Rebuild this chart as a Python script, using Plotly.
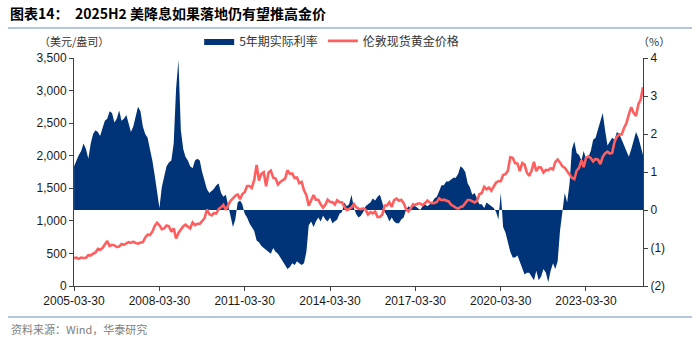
import pandas as pd
import plotly.graph_objects as go

# ---- data (monthly, Mar-2005 .. Mar-2025) ----
real_rate_5y = [
    # 2005 Mar-Dec
    1.15, 1.30, 1.45, 1.55, 1.75, 1.60, 1.35, 1.75, 2.00, 2.10,
    # 2006
    2.05, 1.95, 2.15, 2.35, 2.40, 2.60, 2.55, 2.30, 2.40, 2.62, 2.35, 2.40,
    # 2007
    2.50, 2.30, 2.05, 2.20, 2.45, 2.72, 2.60, 2.20, 2.00, 1.90, 1.60, 1.30,
    # 2008
    0.90, 0.45, 0.05, 0.60, 0.90, 1.15, 1.25, 1.30, 1.75, 3.20, 3.95, 2.10,
    # 2009
    1.60, 1.40, 1.30, 1.15, 1.10, 1.30, 1.35, 1.30, 1.00, 0.75, 0.55, 0.45,
    # 2010
    0.50, 0.55, 0.65, 0.70, 0.45, 0.35, 0.40, 0.10, -0.10, -0.45, -0.25, 0.20,
    # 2011
    0.25, 0.15, -0.10, -0.20, -0.35, -0.45, -0.55, -0.80, -0.85, -0.95, -1.00, -1.05,
    # 2012
    -1.10, -1.15, -1.00, -1.10, -1.15, -1.25, -1.35, -1.45, -1.55, -1.50, -1.40, -1.45,
    # 2013
    -1.35, -1.40, -1.45, -1.40, -1.10, -0.40, -0.30, -0.45, -0.30, -0.20, -0.30, -0.15,
    # 2014
    -0.25, -0.30, -0.20, -0.35, -0.30, -0.25, -0.10, -0.05, 0.20, 0.10, 0.15, 0.40,
    # 2015
    0.05, -0.10, -0.20, -0.15, -0.05, 0.10, 0.15, 0.20, 0.30, 0.25, 0.35, 0.40,
    # 2016
    0.20, -0.05, -0.15, -0.30, -0.20, -0.30, -0.35, -0.35, -0.25, -0.20, 0.00, 0.10,
    # 2017
    0.05, 0.10, 0.10, 0.05, 0.00, 0.10, 0.15, 0.10, 0.15, 0.20, 0.30, 0.35,
    # 2018
    0.50, 0.65, 0.65, 0.75, 0.75, 0.80, 0.85, 0.85, 0.95, 1.15, 1.10, 1.00,
    # 2019
    0.70, 0.60, 0.40, 0.45, 0.30, 0.15, 0.15, 0.05, 0.20, 0.15, 0.10, 0.05,
    # 2020
    -0.05, -0.25, 0.45, -0.45, -0.60, -0.85, -1.10, -1.25, -1.25, -1.20, -1.35, -1.55,
    # 2021
    -1.70, -1.65, -1.65, -1.75, -1.85, -1.60, -1.85, -1.75, -1.55, -1.65, -1.90, -1.60,
    # 2022
    -1.40, -1.55, -1.35, -0.55, -0.05, 0.45, 0.20, 0.70, 1.60, 1.80, 1.50, 1.45,
    # 2023
    1.30, 1.55, 1.35, 1.40, 1.55, 1.85, 1.90, 2.10, 2.35, 2.55, 2.10, 1.70,
    # 2024
    1.80, 1.90, 1.85, 2.05, 2.00, 1.85, 1.70, 1.50, 1.40, 1.60, 1.85, 2.05,
    # 2025 Jan-Mar
    1.90, 1.70, 1.45,
]

london_gold = [
    # 2005 Mar-Dec
    429, 435, 417, 437, 429, 434, 473, 470, 495, 513,
    # 2006
    569, 556, 582, 644, 690, 614, 633, 624, 599, 604, 646, 632,
    # 2007
    650, 672, 662, 680, 660, 650, 666, 673, 743, 789, 783, 834,
    # 2008
    923, 971, 933, 871, 885, 930, 918, 833, 884, 730, 814, 869,
    # 2009
    919, 942, 916, 883, 975, 934, 955, 955, 996, 1040, 1175, 1104,
    # 2010
    1083, 1118, 1115, 1180, 1207, 1244, 1169, 1246, 1307, 1346, 1386, 1405,
    # 2011
    1333, 1411, 1439, 1535, 1536, 1505, 1628, 1860, 1620, 1722, 1746, 1531,
    # 2012
    1744, 1770, 1662, 1651, 1558, 1598, 1622, 1648, 1776, 1720, 1726, 1657,
    # 2013
    1664, 1579, 1598, 1469, 1394, 1234, 1314, 1396, 1326, 1324, 1253, 1204,
    # 2014
    1251, 1326, 1291, 1288, 1250, 1315, 1285, 1285, 1216, 1164, 1182, 1206,
    # 2015
    1260, 1212, 1187, 1180, 1191, 1171, 1098, 1135, 1115, 1142, 1061, 1060,
    # 2016
    1097, 1234, 1237, 1285, 1215, 1320, 1342, 1309, 1322, 1272, 1178, 1146,
    # 2017
    1192, 1255, 1245, 1266, 1266, 1242, 1269, 1311, 1283, 1270, 1275, 1291,
    # 2018
    1345, 1317, 1325, 1316, 1298, 1250, 1224, 1202, 1187, 1215, 1222, 1279,
    # 2019
    1321, 1320, 1295, 1283, 1306, 1409, 1427, 1523, 1485, 1511, 1464, 1523,
    # 2020
    1589, 1609, 1608, 1702, 1715, 1768, 1975, 1968, 1887, 1879, 1762, 1888,
    # 2021
    1863, 1743, 1691, 1770, 1905, 1763, 1825, 1818, 1743, 1783, 1778, 1806,
    # 2022
    1788, 1900, 1942, 1897, 1837, 1817, 1754, 1712, 1660, 1640, 1769, 1813,
    # 2023
    1929, 1826, 1969, 1990, 1962, 1912, 1951, 1939, 1871, 1984, 2036, 2063,
    # 2024
    2034, 2044, 2214, 2291, 2327, 2326, 2426, 2503, 2634, 2744, 2657, 2610,
    # 2025 Jan-Mar
    2790, 2858, 3050,
]

dates = pd.date_range(start="2005-03-31", periods=len(london_gold),
                      freq=pd.offsets.MonthEnd())

x_tick_labels = ["2005-03-30", "2008-03-30", "2011-03-30", "2014-03-30",
                 "2017-03-30", "2020-03-30", "2023-03-30"]
left_ticks = [0, 500, 1000, 1500, 2000, 2500, 3000, 3500]
right_ticks = [-2, -1, 0, 1, 2, 3, 4]
right_tick_text = ["(2)", "(1)", "0", "1", "2", "3", "4"]

series_names = ["5年期实际利率", "伦敦现货黄金价格"]
title_text = "图表14：  2025H2 美降息如果落地仍有望推高金价"
source_text = "资料来源：Wind，华泰研究"

NAVY = "#003377"
RED = "#FF5F5F"
LATIN = "Liberation Sans, Arial, sans-serif"
CJK = "Noto Sans CJK SC, sans-serif"

fig = go.Figure()
fig.add_trace(go.Scatter(
    x=dates, y=real_rate_5y, name=series_names[0], yaxis="y",
    mode="lines", line=dict(width=0, color=NAVY),
    fill="tozeroy", fillcolor=NAVY,
))
fig.add_trace(go.Scatter(
    x=dates, y=london_gold, name=series_names[1], yaxis="y2",
    mode="lines", line=dict(width=2.6, color=RED),
))

axis_common = dict(showline=True, linecolor="#404040", linewidth=1,
                   ticks="outside", ticklen=4, tickcolor="#404040",
                   showgrid=False, zeroline=False,
                   tickfont=dict(family=LATIN, size=12, color="#1a1a1a"))

fig.update_layout(
    width=700, height=342,
    margin=dict(l=74, r=57, t=58, b=56),
    paper_bgcolor="white", plot_bgcolor="white",
    showlegend=True,
    legend=dict(orientation="h", x=0.22, y=1.075, xanchor="left",
                yanchor="middle", font=dict(family=CJK, size=12, color="#333"),
                bgcolor="rgba(0,0,0,0)", traceorder="normal",
                itemwidth=30, tracegroupgap=0),
    xaxis=dict(range=["2005-03-30", "2025-03-31"],
               tickvals=x_tick_labels, ticktext=x_tick_labels, **axis_common),
    yaxis=dict(side="right", range=[-2, 4], tickvals=right_ticks,
               ticktext=right_tick_text, **axis_common),
    yaxis2=dict(side="left", overlaying="y", range=[0, 3500],
                tickvals=left_ticks, tickformat=",", **axis_common),
)

fig.add_annotation(text=f"<b>{title_text}</b>", xref="paper", yref="paper",
                   x=(8 - 74) / 569, y=(286 - 13) / 228, xanchor="left",
                   yanchor="middle", showarrow=False,
                   font=dict(family=CJK, size=14, color="#000"))
fig.add_annotation(text="（美元/盎司）", xref="paper", yref="paper",
                   x=(74 - 74) / 569, y=(286 - 41) / 228, xanchor="center",
                   yanchor="middle", showarrow=False,
                   font=dict(family=CJK, size=11, color="#333"))
fig.add_annotation(text="（%）", xref="paper", yref="paper",
                   x=(654 - 74) / 569, y=(286 - 41) / 228, xanchor="center",
                   yanchor="middle", showarrow=False,
                   font=dict(family=CJK, size=11, color="#333"))
fig.add_annotation(text=source_text, xref="paper", yref="paper",
                   x=(9 - 74) / 569, y=(286 - 329) / 228, xanchor="left",
                   yanchor="middle", showarrow=False,
                   font=dict(family=CJK, size=11, color="#808080"))

for ypix in (28, 317):
    fig.add_shape(type="line", xref="paper", yref="paper",
                  x0=(8 - 74) / 569, x1=(692 - 74) / 569,
                  y0=(286 - ypix) / 228, y1=(286 - ypix) / 228,
                  line=dict(color="#9DB3D1", width=1.5))

fig.write_html("out.html")
